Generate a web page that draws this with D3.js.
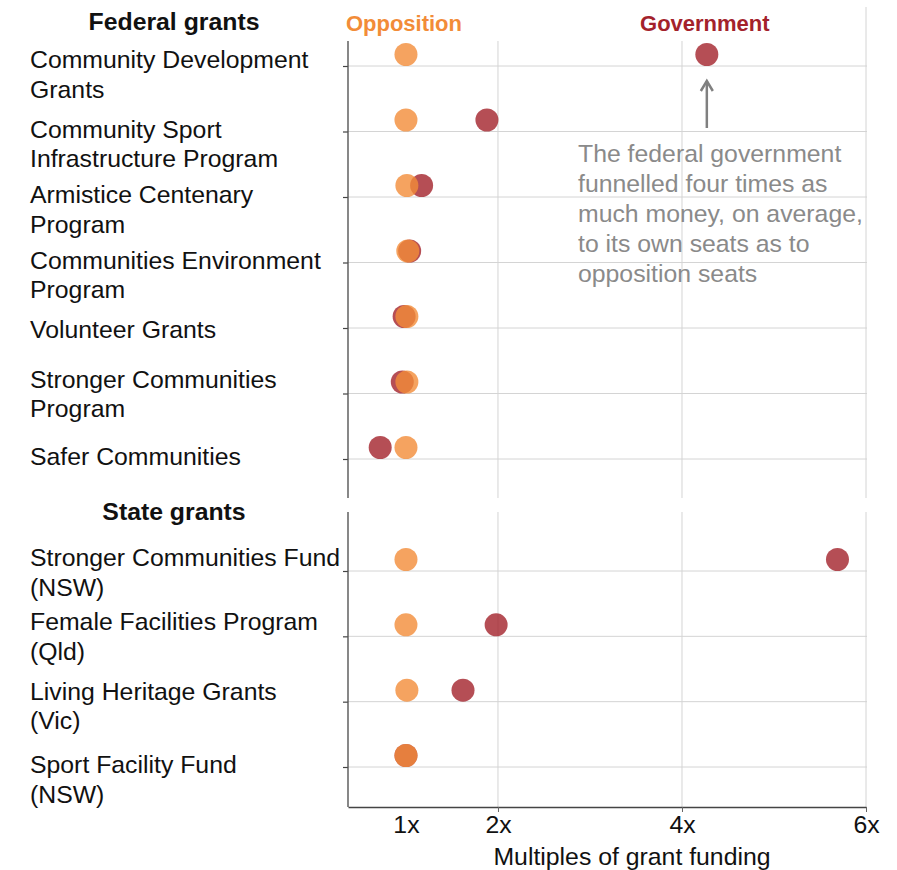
<!DOCTYPE html>
<html>
<head>
<meta charset="utf-8">
<script src="https://cdn.jsdelivr.net/npm/d3@7"></script>
<style>
  body { margin: 0; background: #fff; }
  svg text { font-family: "Liberation Sans", Arial, sans-serif; }
</style>
</head>
<body>
<div class="chart"></div>
<script>
// values: funding multiple per seat type

var federalCats = [
  ['Community Development', 'Grants'],
  ['Community Sport', 'Infrastructure Program'],
  ['Armistice Centenary', 'Program'],
  ['Communities Environment', 'Program'],
  ['Volunteer Grants'],
  ['Stronger Communities', 'Program'],
  ['Safer Communities']
];
var federalOpp = [1.0, 1.0, 1.01, 1.02, 1.01, 1.01, 1.0];
var federalGov = [4.27, 1.88, 1.17, 1.04, 0.98, 0.96, 0.72];

var stateCats = [
  ['Stronger Communities Fund', '(NSW)'],
  ['Female Facilities Program', '(Qld)'],
  ['Living Heritage Grants', '(Vic)'],
  ['Sport Facility Fund', '(NSW)']
];
var stateOpp = [1.0, 1.0, 1.01, 1.0];
var stateGov = [5.69, 1.98, 1.62, 1.0];

var xTicks = [1, 2, 4, 6];
var gridTicks = [2, 4, 6];

var noteLines = [
  'The federal government',
  'funnelled four times as',
  'much money, on average,',
  'to its own seats as to',
  'opposition seats'
];

var width = 897;
var height = 870;
var oppColor = '#f28c38';
var govColor = '#a3222b';
var fs = 24.8;

var svg = d3.select('.chart').append('svg')
  .attr('width', width)
  .attr('height', height);

var x = d3.scaleLinear().domain([0.37, 6]).range([348, 866]);

// label nudges (hand placed in the original)
var panels = [
  { title: 'Federal grants', titleY: 30, cats: federalCats, opp: federalOpp, gov: federalGov,
    top: 41, bottom: 498, rows: [66, 459], nudge: [2, 6, 6, 6, 10, -6, 6] },
  { title: 'State grants', titleY: 520, cats: stateCats, opp: stateOpp, gov: stateGov,
    top: 512, bottom: 807, rows: [571, 767], nudge: [-5, -6, -2, 6] }
];

panels.forEach(function(p, pi) {
  var idx = d3.range(p.cats.length);
  var y = d3.scalePoint().domain(idx).range(p.rows);
  var g = svg.append('g');

  // vertical grid
  g.selectAll('.vgrid').data(gridTicks).enter().append('line')
    .attr('x1', function(d) { return x(d); })
    .attr('x2', function(d) { return x(d); })
    .attr('y1', function(d) { return (pi === 0 && d === 6) ? 7 : p.top; })
    .attr('y2', p.bottom)
    .attr('stroke', '#d4d4d4')
    .attr('stroke-width', 1);

  // horizontal grid
  g.selectAll('.hgrid').data(idx).enter().append('line')
    .attr('x1', x.range()[0])
    .attr('x2', x.range()[1] + 1)
    .attr('y1', function(d) { return y(d); })
    .attr('y2', function(d) { return y(d); })
    .attr('stroke', '#d4d4d4')
    .attr('stroke-width', 1);

  // left axis
  var ax = g.append('g')
    .attr('transform', 'translate(' + x.range()[0] + ',0)')
    .call(d3.axisLeft(y).tickSize(5).tickFormat(''));
  ax.select('.domain').remove();
  ax.selectAll('line').attr('stroke', '#444').attr('stroke-width', 1.2);
  g.append('line')
    .attr('x1', x.range()[0]).attr('x2', x.range()[0])
    .attr('y1', p.top).attr('y2', p.bottom)
    .attr('stroke', '#555').attr('stroke-width', 1.4);

  // row labels
  var lab = g.selectAll('.lab').data(idx).enter().append('text')
    .attr('x', 30)
    .attr('y', function(d) { return y(d) + p.nudge[d]; })
    .attr('font-size', fs)
    .attr('fill', '#111');
  lab.selectAll('tspan').data(function(d) { return p.cats[d]; }).enter().append('tspan')
    .attr('x', 30)
    .attr('dy', function(d, i) { return i === 0 ? 0 : 29.5; })
    .text(function(d) { return d; });

  // panel title
  g.append('text')
    .attr('x', 174)
    .attr('y', p.titleY)
    .attr('text-anchor', 'middle')
    .attr('font-size', fs)
    .attr('font-weight', 'bold')
    .attr('fill', '#111')
    .text(p.title);

  // dots: government under, opposition on top
  g.selectAll('.gov').data(idx).enter().append('circle')
    .attr('cx', function(d) { return x(p.gov[d]); })
    .attr('cy', function(d) { return y(d) - 11.5; })
    .attr('r', 11.5)
    .attr('fill', govColor)
    .attr('fill-opacity', 0.8);
  g.selectAll('.opp').data(idx).enter().append('circle')
    .attr('cx', function(d) { return x(p.opp[d]); })
    .attr('cy', function(d) { return y(d) - 11.5; })
    .attr('r', 11.5)
    .attr('fill', oppColor)
    .attr('fill-opacity', 0.8);
});

// bottom axis
var xa = svg.append('g')
  .attr('transform', 'translate(0,807)')
  .call(d3.axisBottom(x).tickValues(xTicks).tickSize(5).tickSizeOuter(0).tickPadding(3)
    .tickFormat(function(d) { return d + 'x'; }));
xa.select('.domain').attr('stroke', '#444').attr('stroke-width', 1.4);
xa.selectAll('.tick line').attr('stroke', '#666')
  .attr('display', function(d) { return d === 1 ? 'none' : null; });
xa.selectAll('.tick text')
  .attr('font-size', fs)
  .attr('font-family', '"Liberation Sans", Arial, sans-serif')
  .attr('fill', '#111');

svg.append('text')
  .attr('x', 632)
  .attr('y', 865)
  .attr('text-anchor', 'middle')
  .attr('font-size', fs)
  .attr('fill', '#111')
  .text('Multiples of grant funding');

// legend
svg.append('text')
  .attr('x', x(federalOpp[0]) - 2)
  .attr('y', 31)
  .attr('text-anchor', 'middle')
  .attr('font-size', 22)
  .attr('font-weight', 'bold')
  .attr('fill', oppColor)
  .text('Opposition');
svg.append('text')
  .attr('x', x(federalGov[0]) - 2)
  .attr('y', 31)
  .attr('text-anchor', 'middle')
  .attr('font-size', 22)
  .attr('font-weight', 'bold')
  .attr('fill', govColor)
  .text('Government');

// annotation + arrow
var ax0 = x(federalGov[0]);
svg.append('line')
  .attr('x1', ax0).attr('x2', ax0)
  .attr('y1', 128).attr('y2', 81)
  .attr('stroke', '#808080').attr('stroke-width', 2.5);
svg.append('path')
  .attr('d', 'M' + (ax0 - 6) + ',91 L' + ax0 + ',81 L' + (ax0 + 6) + ',91')
  .attr('fill', 'none')
  .attr('stroke', '#808080').attr('stroke-width', 2.5);

svg.append('text')
  .attr('x', 578)
  .attr('y', 162)
  .attr('font-size', fs)
  .attr('fill', '#8a8a8a')
  .selectAll('tspan').data(noteLines).enter().append('tspan')
  .attr('x', 578)
  .attr('dy', function(d, i) { return i === 0 ? 0 : 30; })
  .text(function(d) { return d; });
</script>
</body>
</html>
